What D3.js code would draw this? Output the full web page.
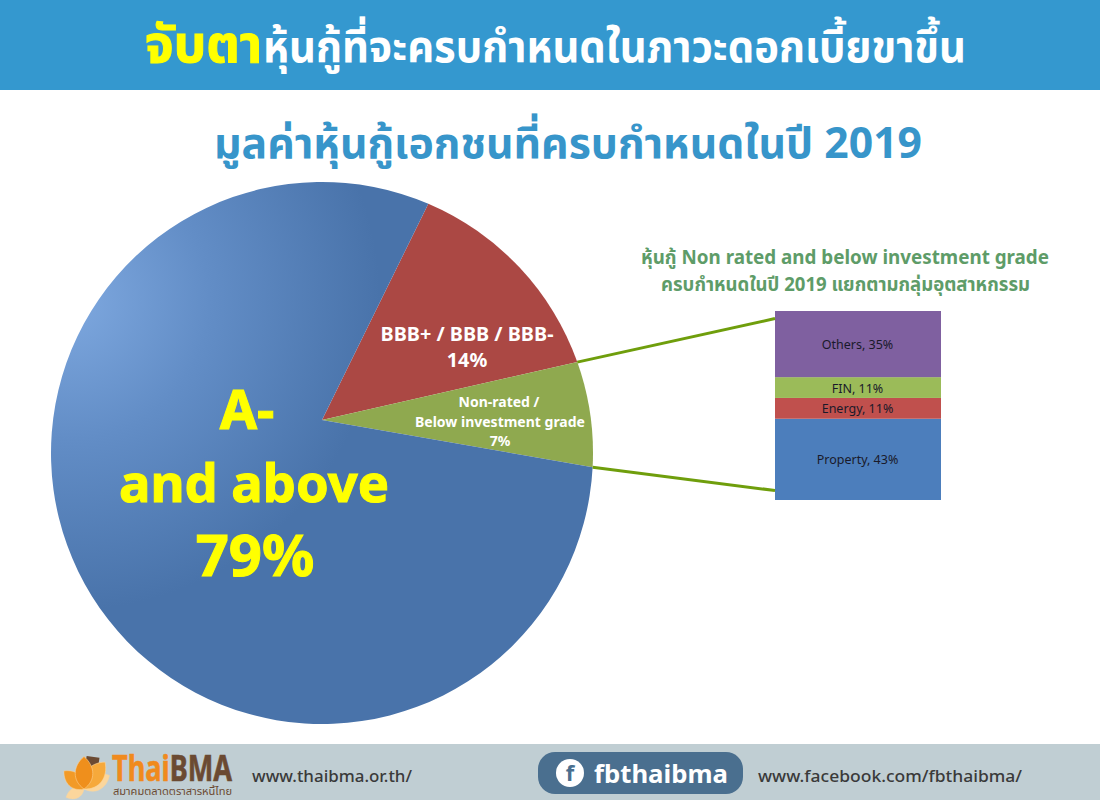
<!DOCTYPE html>
<html><head><meta charset="utf-8">
<script src="https://cdn.jsdelivr.net/npm/d3@7/dist/d3.min.js"></script>
<style>html,body{margin:0;padding:0;background:#fff}svg{display:block}
text{font-family:"Noto Sans","Noto Sans Thai",Lato,"DejaVu Sans",sans-serif}</style>
</head><body><svg id="c" width="1100" height="800"></svg>
<script>
const pieCategories=["BBB+ / BBB / BBB-","Non-rated / Below investment grade","A- and above"];
const pieValues=[14,7,79];
const stackCategories=["Property","Energy","FIN","Others"];
const stackValues=[43,11,11,35];
const stackColors=["#4c7ebc","#c0504d","#9bbb59","#7f60a0"];
const titleAccent="จับตา";
const titleRest="หุ้นกู้ที่จะครบกำหนดในภาวะดอกเบี้ยขาขึ้น";
const subtitle="มูลค่าหุ้นกู้เอกชนที่ครบกำหนดในปี 2019";
const sideTitle=["หุ้นกู้ Non rated and below investment grade","ครบกำหนดในปี 2019 แยกตามกลุ่มอุตสาหกรรม"];

const svg=d3.select("#c");
const rad=d=>d*Math.PI/180;
svg.append("rect").attr("width",1100).attr("height",90).attr("fill","#3498cf");
svg.append("rect").attr("y",744).attr("width",1100).attr("height",56).attr("fill","#c0ced3");

// fit helper: stretches a text to the width it has in the picture
const fit=(sel,w)=>sel.attr("textLength",w).attr("lengthAdjust","spacingAndGlyphs");

fit(svg.append("text").attr("x",145).attr("y",62).attr("font-size",52).attr("font-weight",700)
  .attr("fill","#ffff00").attr("stroke","#ffff00").attr("stroke-width",1).text(titleAccent),117);
fit(svg.append("text").attr("x",263).attr("y",62).attr("font-size",44).attr("font-weight",700)
  .attr("fill","#fff").text(titleRest),703);
fit(svg.append("text").attr("x",214).attr("y",158).attr("font-size",43)
  .attr("font-weight",700).attr("fill","#3795ca").text(subtitle),708);

// pie: circle centre and off-centre slice apex, as in the picture
const cx=322,cy=453,R=271,apex=[322,420];
const defs=svg.append("defs");
const grad=defs.append("radialGradient").attr("id","blue").attr("gradientUnits","userSpaceOnUse")
  .attr("cx",70).attr("cy",300).attr("r",310);
grad.append("stop").attr("offset",0).attr("stop-color","#7ea8df");
grad.append("stop").attr("offset",.45).attr("stop-color","#628dc6");
grad.append("stop").attr("offset",1).attr("stop-color","#4973aa");
const arcs=d3.pie().sort(null).value(d=>d)(pieValues);
const angle=d3.scaleLinear().domain([0,rad(50.4),rad(75.6),rad(360)]).range([rad(23.1),rad(70.4),rad(93),rad(383.1)]);
const fills=["#ab4844","#8fa94f","url(#blue)"];
svg.append("g").selectAll("path").data(arcs).join("path")
  .attr("fill",(d,i)=>fills[i])
  .attr("d",d=>{
    const p=d3.path();
    const a0=angle(d.startAngle)-Math.PI/2,a1=angle(d.endAngle)-Math.PI/2;
    p.moveTo(apex[0],apex[1]);
    p.lineTo(cx+R*Math.cos(a0),cy+R*Math.sin(a0));
    p.arc(cx,cy,R,a0,a1);
    p.closePath();
    return p.toString();
  });

const edge=i=>{const a=angle(arcs[i].endAngle)-Math.PI/2;return [cx+R*Math.cos(a),cy+R*Math.sin(a)];};

// stacked bar
const barX=775,barW=166;
const y=d3.scaleLinear().domain([0,d3.sum(stackValues)]).range([500,311]);
const cum=d3.cumsum(stackValues);
const bars=svg.append("g").selectAll("g").data(stackValues).join("g");
bars.append("rect").attr("x",barX).attr("width",barW)
  .attr("y",(d,i)=>y(cum[i])).attr("height",d=>y(0)-y(d)).attr("fill",(d,i)=>stackColors[i]);
bars.append("text").attr("x",barX+barW/2-0.5).attr("y",(d,i)=>y(cum[i]-d/2)+5)
  .attr("text-anchor","middle").attr("font-size",12.5).attr("fill","#1a1a2a")
  .text((d,i)=>`${stackCategories[i]}, ${d}%`);

const link=d3.line();
svg.append("path").attr("d",link([edge(0),[barX,y(96)]])).attr("fill","none").attr("stroke","#6f9e0c").attr("stroke-width",3);
svg.append("path").attr("d",link([edge(1),[barX,y(5)]])).attr("fill","none").attr("stroke","#6f9e0c").attr("stroke-width",3);

// side title
fit(svg.append("text").attr("x",641).attr("y",264).attr("font-size",19.5).attr("font-weight",700).attr("fill","#5e9c68").text(sideTitle[0]),408);
fit(svg.append("text").attr("x",661).attr("y",291).attr("font-size",19.5).attr("font-weight",700).attr("fill","#5e9c68").text(sideTitle[1]),369);

// pie labels
const lab=(x,y,s,fs,fill,w=700)=>svg.append("text").attr("x",x).attr("y",y).attr("text-anchor","middle")
  .attr("font-size",fs).attr("font-weight",w).attr("fill",fill).text(s);
lab(467,341,"BBB+ / BBB / BBB-",19.8,"#fff");
lab(467,367,pieValues[0]+"%",19.8,"#fff");
lab(499,407,"Non-rated /",14,"#fff");
lab(500,427,"Below investment grade",14,"#fff");
lab(500,446,pieValues[1]+"%",14,"#fff");
lab(247,429,"A-",54,"#ffff00").attr("stroke","#ffff00");
lab(254,502,"and above",52.5,"#ffff00").attr("stroke","#ffff00");
lab(255,576,pieValues[2]+"%",58,"#ffff00").attr("stroke","#ffff00");

// footer logo
const logo=svg.append("g").attr("transform","translate(84,789)");
logo.append("rect").attr("x",-2).attr("y",-33).attr("width",13).attr("height",15).attr("fill","#6b4a32").attr("transform","rotate(8)");
const petal="M0 0C-13 -9 -13 -25 0 -36C13 -25 13 -9 0 0Z";
[[-115,"#fbd69c",.55],[62,"#fbd69c",.8],[-48,"#f29a27",.75],[38,"#f6a93b",.95],[0,"#ef8f1c",.9]].forEach(([r,c,s])=>{
  logo.append("path").attr("d",petal).attr("fill",c).attr("stroke","#fbd69c").attr("stroke-width",.6)
    .attr("transform",`rotate(${r}) scale(${s})`);
});
const brand=fit(svg.append("text").attr("x",112).attr("y",781).attr("font-size",35).attr("font-weight",700).attr("stroke-width",.6),120);
brand.append("tspan").attr("fill","#f08a1d").attr("stroke","#f08a1d").text("Thai");
brand.append("tspan").attr("fill","#6b4a32").attr("stroke","#6b4a32").text("BMA");
fit(svg.append("text").attr("x",113).attr("y",795).attr("font-size",10).attr("fill","#6b4a32").text("สมาคมตลาดตราสารหนี้ไทย"),119);
fit(svg.append("text").attr("x",252).attr("y",782).attr("font-size",17).attr("font-weight",500).attr("fill","#3a3a3a").text("www.thaibma.or.th/"),160);
svg.append("rect").attr("x",538).attr("y",752).attr("width",205).attr("height",42).attr("rx",17).attr("fill","#4a6f8f");
svg.append("circle").attr("cx",570).attr("cy",773).attr("r",14).attr("fill","#fff");
svg.append("text").attr("x",570).attr("y",781).attr("text-anchor","middle").attr("font-size",22).attr("font-weight",700).attr("fill","#4a6f8f").text("f");
fit(svg.append("text").attr("x",594).attr("y",783).attr("font-size",25).attr("font-weight",700).attr("fill","#fff").text("fbthaibma"),134);
fit(svg.append("text").attr("x",758).attr("y",782).attr("font-size",17).attr("font-weight",500).attr("fill","#3a3a3a").text("www.facebook.com/fbthaibma/"),264);
</script></body></html>
